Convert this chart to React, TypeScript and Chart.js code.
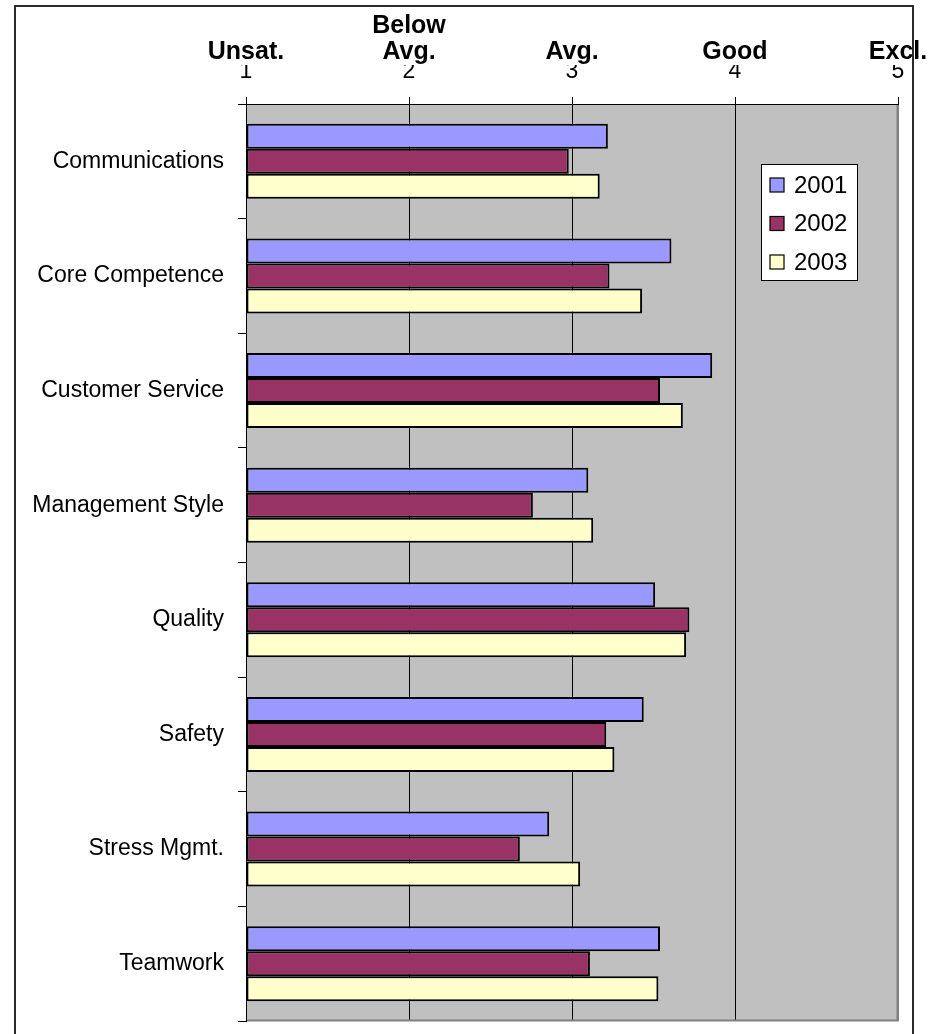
import { useEffect, useRef } from "react";
import { Chart, registerables } from "chart.js";

Chart.register(...registerables);

const categories = [
  "Communications",
  "Core Competence",
  "Customer Service",
  "Management Style",
  "Quality",
  "Safety",
  "Stress Mgmt.",
  "Teamwork",
];
const seriesNames = ["2001", "2002", "2003"];
const series2001 = [3.22, 3.61, 3.86, 3.1, 3.51, 3.44, 2.86, 3.54];
const series2002 = [2.98, 3.23, 3.54, 2.76, 3.72, 3.21, 2.68, 3.11];
const series2003 = [3.17, 3.43, 3.68, 3.13, 3.7, 3.26, 3.05, 3.53];
const seriesColors = ["#9999FF", "#993366", "#FFFFCC"];
const scaleTicks = [1, 2, 3, 4, 5];
const ratingLabels = [["Unsat."], ["Below", "Avg."], ["Avg."], ["Good"], ["Excl."]];

const FONT = "'Liberation Sans', Arial, sans-serif";

const backgroundPlugin = {
  id: "bgPlot",
  beforeDraw(chart: any) {
    const { ctx, chartArea, width, height } = chart;
    ctx.save();
    ctx.fillStyle = "#FFFFFF";
    ctx.fillRect(0, 0, width, height);
    ctx.fillStyle = "#C0C0C0";
    ctx.fillRect(chartArea.left, chartArea.top, chartArea.right - chartArea.left, chartArea.bottom - chartArea.top);
    ctx.restore();
  },
  afterDatasetsDraw(chart: any) {
    const { ctx, chartArea } = chart;
    ctx.save();
    ctx.strokeStyle = "#808080";
    ctx.lineWidth = 2;
    ctx.beginPath();
    ctx.moveTo(chartArea.right - 0.5, chartArea.top + 1);
    ctx.lineTo(chartArea.right - 0.5, chartArea.bottom - 0.5);
    ctx.lineTo(chartArea.left + 1, chartArea.bottom - 0.5);
    ctx.stroke();
    ctx.restore();
  },
};

const legendBoxPlugin = {
  id: "legendBox",
  afterDraw(chart: any) {
    const { ctx, chartArea } = chart;
    const x0 = chartArea.right - 137;
    const y0 = chartArea.top + 60;
    const w = 96;
    const h = 116;
    ctx.save();
    ctx.fillStyle = "#FFFFFF";
    ctx.fillRect(x0, y0, w, h);
    ctx.strokeStyle = "#000000";
    ctx.lineWidth = 1;
    ctx.strokeRect(x0 + 0.5, y0 + 0.5, w, h);
    ctx.font = `24px ${FONT}`;
    ctx.textBaseline = "middle";
    ctx.textAlign = "left";
    chart.data.datasets.forEach((ds: any, i: number) => {
      const cy = y0 + 21 + i * 38.5;
      ctx.fillStyle = ds.backgroundColor;
      ctx.fillRect(x0 + 9, cy - 7, 14, 14);
      ctx.strokeStyle = "#000000";
      ctx.lineWidth = 1.2;
      ctx.strokeRect(x0 + 9, cy - 7, 14, 14);
      ctx.fillStyle = "#000000";
      ctx.fillText(ds.label, x0 + 33, cy + 1);
    });
    ctx.restore();
  },
};

const framePlugin = {
  id: "outerFrame",
  afterDraw(chart: any) {
    const { ctx } = chart;
    ctx.save();
    ctx.strokeStyle = "#2a2a2a";
    ctx.lineWidth = 2;
    ctx.strokeRect(15, 6, 898, 1060);
    ctx.restore();
  },
};

export default function App() {
  const ref = useRef<HTMLCanvasElement | null>(null);

  useEffect(() => {
    if (!ref.current) return;
    const values = [series2001, series2002, series2003];
    const chart = new Chart(ref.current, {
      type: "bar",
      data: {
        labels: categories,
        datasets: seriesNames.map((name, i) => ({
          label: name,
          data: values[i],
          backgroundColor: seriesColors[i],
          borderColor: "#000000",
          borderWidth: 2,
          borderSkipped: false,
          base: 1,
          barPercentage: 1,
          categoryPercentage: 0.655,
        })),
      },
      options: {
        indexAxis: "y",
        responsive: false,
        animation: false,
        events: [],
        layout: { padding: { left: 0, right: 30, top: 0, bottom: 13 } },
        plugins: {
          legend: { display: false },
          tooltip: { enabled: false },
        },
        scales: {
          x: {
            type: "linear",
            position: "top",
            weight: 0,
            min: 1,
            max: 5,
            afterBuildTicks: (s: any) => {
              s.ticks = scaleTicks.map((v) => ({ value: v }));
            },
            afterFit: (s: any) => {
              s.height = 39;
              s.paddingLeft = 0;
              s.paddingRight = 0;
            },
            grid: {
              display: true,
              drawOnChartArea: true,
              drawTicks: true,
              tickLength: 7,
              color: (c: any) => (c.tick && c.tick.value === 5 ? "#808080" : "#000000"),
              tickColor: "#000000",
              lineWidth: 1,
            },
            border: { display: true, color: "#000000", width: 1 },
            ticks: {
              color: "#000000",
              font: { family: FONT, size: 23, lineHeight: 1.2 },
              padding: 12,
              maxRotation: 0,
              autoSkip: false,
              callback: (v: any) => String(v),
            },
          },
          x2: {
            type: "linear",
            position: "top",
            axis: "x",
            weight: 1,
            min: 1,
            max: 5,
            afterBuildTicks: (s: any) => {
              s.ticks = scaleTicks.map((v) => ({ value: v }));
            },
            afterFit: (s: any) => {
              s.height = 65;
              s.paddingLeft = 0;
              s.paddingRight = 0;
            },
            grid: { display: false, drawTicks: false, drawOnChartArea: false },
            border: { display: false },
            ticks: {
              color: "#000000",
              font: { family: FONT, size: 25, weight: "bold", lineHeight: 1.04 },
              padding: 0,
              maxRotation: 0,
              autoSkip: false,
              callback: (v: any) => ratingLabels[scaleTicks.indexOf(Number(v))] || "",
            },
          },
          y: {
            type: "category",
            position: "left",
            offset: true,
            afterFit: (s: any) => {
              s.width = 246;
              s.paddingTop = 0;
              s.paddingBottom = 0;
            },
            grid: {
              display: true,
              offset: true,
              drawOnChartArea: false,
              drawTicks: true,
              tickLength: 8,
              color: "#000000",
              tickColor: "#000000",
            },
            border: { display: true, color: "#000000", width: 1 },
            ticks: {
              color: "#000000",
              font: { family: FONT, size: 23 },
              padding: 14,
              autoSkip: false,
            },
          },
        },
      } as any,
      plugins: [backgroundPlugin, legendBoxPlugin, framePlugin],
    });
    return () => chart.destroy();
  }, []);

  return (
    <div style={{ position: "absolute", left: 0, top: 0, width: 928, height: 1034 }}>
      <canvas ref={ref} width={928} height={1034} style={{ display: "block", width: 928, height: 1034 }} />
    </div>
  );
}
